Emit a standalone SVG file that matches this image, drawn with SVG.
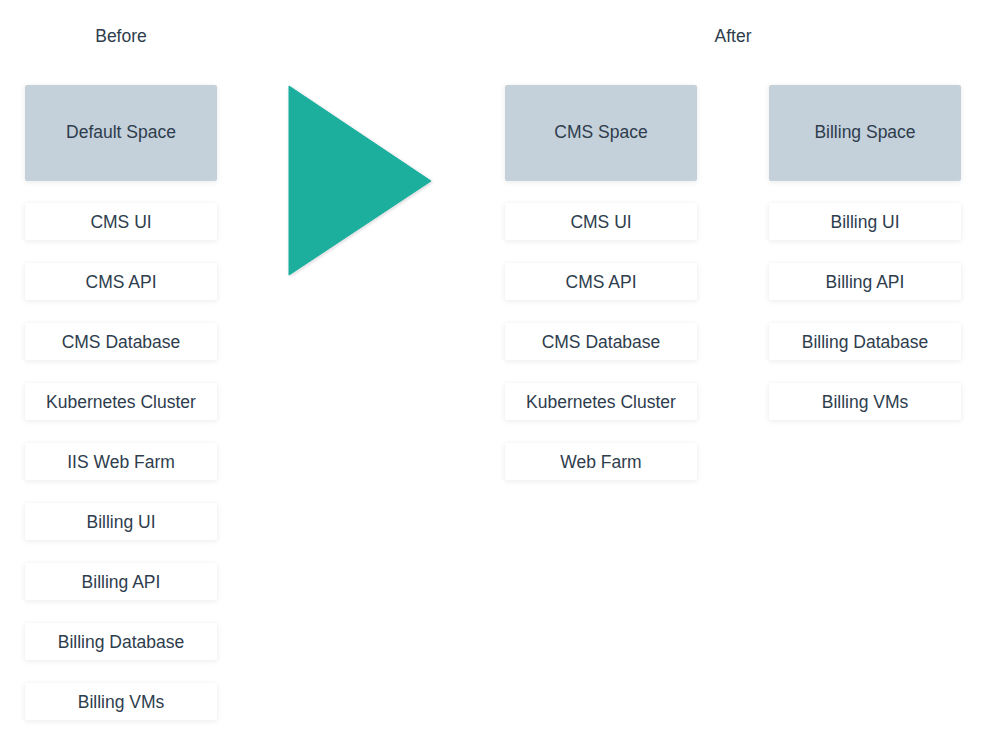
<svg xmlns="http://www.w3.org/2000/svg" width="986" height="746" viewBox="0 0 986 746">
  <defs>
    <filter id="soft" x="-10%" y="-30%" width="120%" height="160%">
      <feDropShadow dx="0" dy="1" stdDeviation="2.5" flood-color="#1f2d3d" flood-opacity="0.09"/>
    </filter>
    <filter id="softTri" x="-10%" y="-10%" width="130%" height="130%">
      <feDropShadow dx="1" dy="1" stdDeviation="1.5" flood-color="#1f2d3d" flood-opacity="0.2"/>
    </filter>
  </defs>
  <style>
    text { font-family: "Liberation Sans", Arial, sans-serif; font-size: 17.5px; fill: #2e3d4d; text-anchor: middle; }
    .space { fill: #c4d0da; filter: url(#soft); }
    .item { fill: #ffffff; filter: url(#soft); }
  </style>
  <rect width="986" height="746" fill="#ffffff"/>

  <!-- column headings -->
  <text x="121" y="42">Before</text>
  <text x="733" y="42">After</text>

  <!-- before: single space -->
  <g id="default-space"><rect class="space" x="25" y="85" width="192" height="96" rx="2"/><text x="121" y="138">Default Space</text></g>
  <g id="before-cms-ui"><rect class="item" x="25" y="203" width="192" height="37" rx="2"/><text x="121" y="228">CMS UI</text></g>
  <g id="before-cms-api"><rect class="item" x="25" y="263" width="192" height="37" rx="2"/><text x="121" y="288">CMS API</text></g>
  <g id="before-cms-db"><rect class="item" x="25" y="323" width="192" height="37" rx="2"/><text x="121" y="348">CMS Database</text></g>
  <g id="before-k8s"><rect class="item" x="25" y="383" width="192" height="37" rx="2"/><text x="121" y="408">Kubernetes Cluster</text></g>
  <g id="before-iis"><rect class="item" x="25" y="443" width="192" height="37" rx="2"/><text x="121" y="468">IIS Web Farm</text></g>
  <g id="before-billing-ui"><rect class="item" x="25" y="503" width="192" height="37" rx="2"/><text x="121" y="528">Billing UI</text></g>
  <g id="before-billing-api"><rect class="item" x="25" y="563" width="192" height="37" rx="2"/><text x="121" y="588">Billing API</text></g>
  <g id="before-billing-db"><rect class="item" x="25" y="623" width="192" height="37" rx="2"/><text x="121" y="648">Billing Database</text></g>
  <g id="before-billing-vms"><rect class="item" x="25" y="683" width="192" height="37" rx="2"/><text x="121" y="708">Billing VMs</text></g>

  <!-- transition arrow -->
  <g id="transition"><polygon points="289,86 431,181 289,275" fill="#1aaf9e" stroke="#1aaf9e" stroke-width="1" stroke-linejoin="round" filter="url(#softTri)"/></g>

  <!-- after: CMS space -->
  <g id="cms-space"><rect class="space" x="505" y="85" width="192" height="96" rx="2"/><text x="601" y="138">CMS Space</text></g>
  <g id="after-cms-ui"><rect class="item" x="505" y="203" width="192" height="37" rx="2"/><text x="601" y="228">CMS UI</text></g>
  <g id="after-cms-api"><rect class="item" x="505" y="263" width="192" height="37" rx="2"/><text x="601" y="288">CMS API</text></g>
  <g id="after-cms-db"><rect class="item" x="505" y="323" width="192" height="37" rx="2"/><text x="601" y="348">CMS Database</text></g>
  <g id="after-k8s"><rect class="item" x="505" y="383" width="192" height="37" rx="2"/><text x="601" y="408">Kubernetes Cluster</text></g>
  <g id="after-web-farm"><rect class="item" x="505" y="443" width="192" height="37" rx="2"/><text x="601" y="468">Web Farm</text></g>

  <!-- after: billing space -->
  <g id="billing-space"><rect class="space" x="769" y="85" width="192" height="96" rx="2"/><text x="865" y="138">Billing Space</text></g>
  <g id="after-billing-ui"><rect class="item" x="769" y="203" width="192" height="37" rx="2"/><text x="865" y="228">Billing UI</text></g>
  <g id="after-billing-api"><rect class="item" x="769" y="263" width="192" height="37" rx="2"/><text x="865" y="288">Billing API</text></g>
  <g id="after-billing-db"><rect class="item" x="769" y="323" width="192" height="37" rx="2"/><text x="865" y="348">Billing Database</text></g>
  <g id="after-billing-vms"><rect class="item" x="769" y="383" width="192" height="37" rx="2"/><text x="865" y="408">Billing VMs</text></g>

  <!-- no connectors between nodes -->
  <g id="connectors"/>
</svg>
